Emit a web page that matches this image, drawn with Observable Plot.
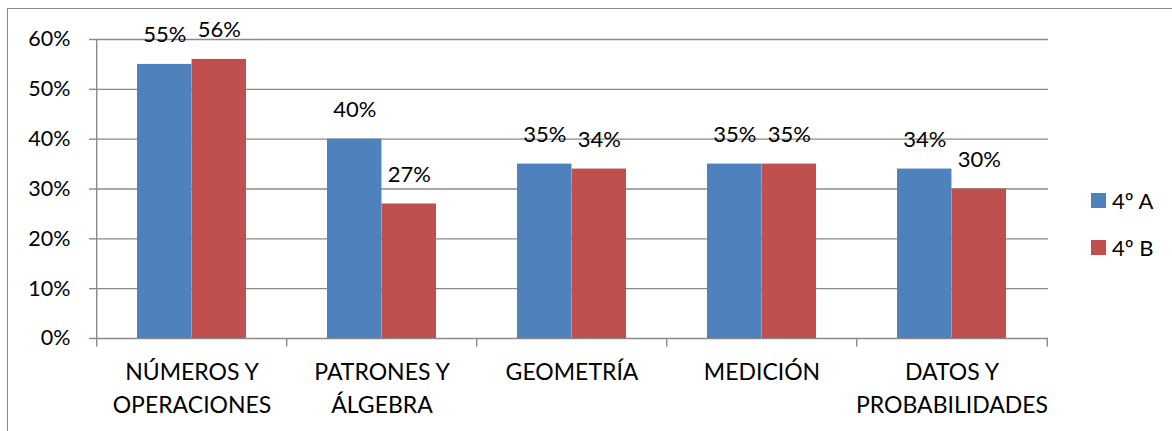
<!DOCTYPE html>
<html>
<head>
<meta charset="utf-8">
<script src="https://cdn.jsdelivr.net/npm/d3@7"></script>
<script src="https://cdn.jsdelivr.net/npm/@observablehq/plot@0.6"></script>
<style>
  html, body { margin: 0; padding: 0; background: #fff; }
  #wrap { position: relative; width: 1172px; height: 431px; overflow: hidden; font-family: Lato, "Open Sans", sans-serif; }
  #border { position: absolute; left: 7px; top: 8px; width: 1300px; height: 600px; border: 1.5px solid #8a8a8a; box-sizing: border-box; }
  #chart { position: absolute; left: 0; top: 0; }
  .leg { position: absolute; left: 1091px; display: flex; align-items: center; font-size: 22px; color: #000; }
  .sw { width: 15px; height: 15px; margin-right: 6px; }
</style>
</head>
<body>
<div id="wrap">
  <div id="border"></div>
  <div id="chart"></div>
  <div id="legend"></div>
</div>
<script>
const categories = ["NÚMEROS Y OPERACIONES", "PATRONES Y ÁLGEBRA", "GEOMETRÍA", "MEDICIÓN", "DATOS Y PROBABILIDADES"];
const tickLabels = ["NÚMEROS Y\nOPERACIONES", "PATRONES Y\nÁLGEBRA", "GEOMETRÍA", "MEDICIÓN", "DATOS Y\nPROBABILIDADES"];
const seriesNames = ["4º A", "4º B"];
const seriesA = [0.55, 0.40, 0.35, 0.35, 0.34];
const seriesB = [0.56, 0.27, 0.34, 0.35, 0.30];
const yTicks = [0, 0.1, 0.2, 0.3, 0.4, 0.5, 0.6];
const colors = ["#4F81BD", "#C0504D"];

const rowsA = categories.map((c, i) => ({category: c, value: seriesA[i]}));
const rowsB = categories.map((c, i) => ({category: c, value: seriesB[i]}));
const labelRows = categories.map((c, i) => ({category: c, label: tickLabels[i]}));

const W = 1172, H = 431;
const mL = 95, mR = 124;
const step = (W - mL - mR) / categories.length;
const pInner = 0.4275;
const half = step * (1 - pInner) / 2;
const grid = "#8a8a8a";
const fmt = d3.format(".0%");

const chart = Plot.plot({
  width: W,
  height: H,
  marginLeft: mL,
  marginRight: mR,
  marginTop: 39,
  marginBottom: 93,
  style: {fontFamily: "Lato, 'Open Sans', sans-serif", color: "#000", background: "transparent", overflow: "visible"},
  x: {domain: categories, paddingInner: pInner, paddingOuter: pInner / 2, axis: null},
  y: {domain: [0, 0.6], axis: null},
  marks: [
    Plot.ruleY(yTicks, {stroke: grid, strokeWidth: 1.4}),
    Plot.axisY({ticks: yTicks, tickFormat: fmt, label: null, tickSize: 6, tickPadding: 19, fontSize: 21.5, stroke: grid, strokeWidth: 1.4, fill: "#000"}),
    Plot.barY(rowsA, {x: "category", y: "value", fill: colors[0], insetRight: half}),
    Plot.barY(rowsB, {x: "category", y: "value", fill: colors[1], insetLeft: half}),
    Plot.ruleX(categories, {x: d => d, dx: -step / 2, y1: -0.017, y2: (d, i) => i === 0 ? 0.6 : 0, stroke: grid, strokeWidth: 1.4}),
    Plot.ruleX([categories[categories.length - 1]], {x: d => d, dx: step / 2, y1: -0.017, y2: 0, stroke: grid, strokeWidth: 1.4}),
    Plot.text(rowsA, {x: "category", y: "value", text: d => fmt(d.value), dx: -half / 2, dy: -29, lineAnchor: "middle", fontSize: 22, fill: "#000"}),
    Plot.text(rowsB, {x: "category", y: "value", text: d => fmt(d.value), dx: half / 2, dy: -29, lineAnchor: "middle", fontSize: 22, fill: "#000"}),
    Plot.text(labelRows, {x: "category", y: 0, text: "label", dy: 18, lineAnchor: "top", lineHeight: 1.44, fontSize: 23, fill: "#000"})
  ]
});
document.getElementById("chart").appendChild(chart);

const legend = document.getElementById("legend");
const legTops = [200, 247];
seriesNames.forEach((name, i) => {
  const el = document.createElement("div");
  el.className = "leg";
  el.style.top = (legTops[i] - 14) + "px";
  el.style.height = "28px";
  el.innerHTML = `<span class="sw" style="background:${colors[i]}"></span><span>${name}</span>`;
  legend.appendChild(el);
});
</script>
</body>
</html>
